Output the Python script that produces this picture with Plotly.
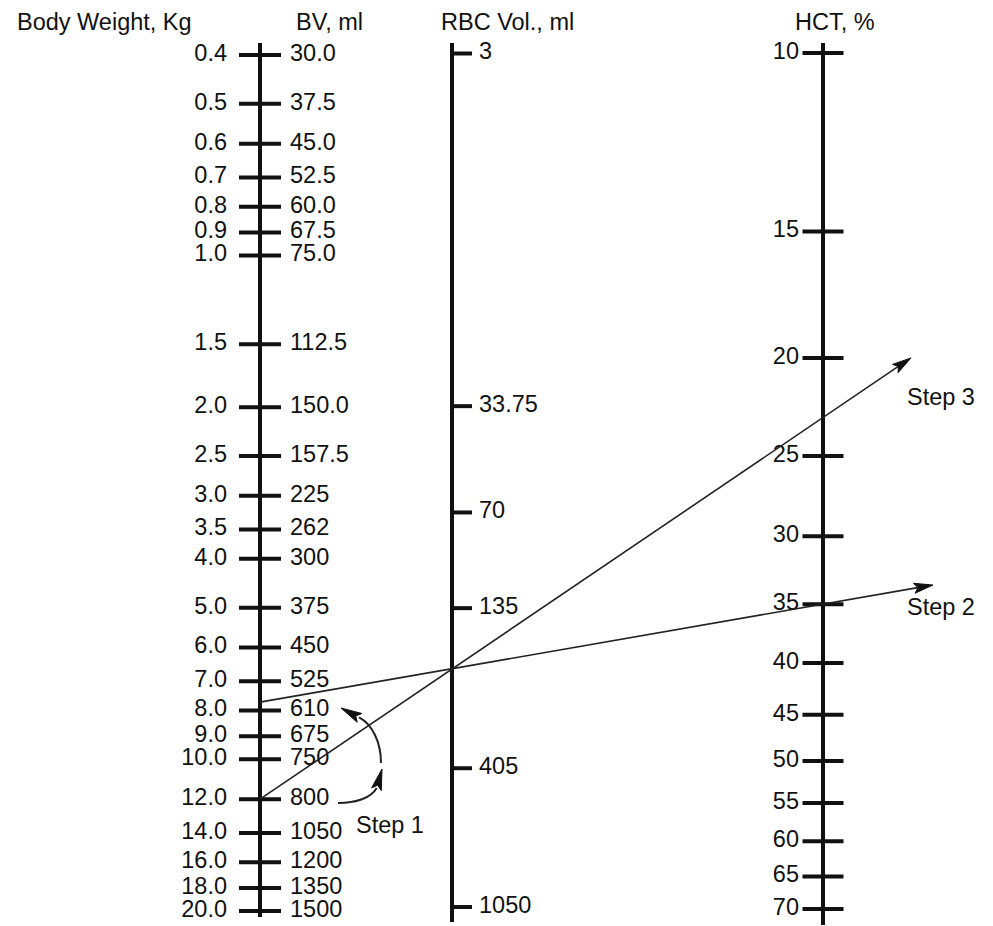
import numpy as np
import plotly.graph_objects as go

# ---------------- data ----------------
weight_kg = [0.4, 0.5, 0.6, 0.7, 0.8, 0.9, 1.0, 1.5, 2.0, 2.5, 3.0, 3.5, 4.0,
             5.0, 6.0, 7.0, 8.0, 9.0, 10.0, 12.0, 14.0, 16.0, 18.0, 20.0]
weight_labels = ["0.4", "0.5", "0.6", "0.7", "0.8", "0.9", "1.0", "1.5", "2.0", "2.5",
                 "3.0", "3.5", "4.0", "5.0", "6.0", "7.0", "8.0", "9.0", "10.0", "12.0",
                 "14.0", "16.0", "18.0", "20.0"]
bv_labels = ["30.0", "37.5", "45.0", "52.5", "60.0", "67.5", "75.0", "112.5", "150.0",
             "157.5", "225", "262", "300", "375", "450", "525", "610", "675", "750",
             "800", "1050", "1200", "1350", "1500"]
rbc_ml = [3, 33.75, 70, 135, 405, 1050]
rbc_labels = ["3", "33.75", "70", "135", "405", "1050"]
hct_pct = [10, 15, 20, 25, 30, 35, 40, 45, 50, 55, 60, 65, 70]
hct_labels = ["10", "15", "20", "25", "30", "35", "40", "45", "50", "55", "60", "65", "70"]

# worked example: start weight (kg) and HCT crossing (%)
step2_weight, step2_hct = 7.7, 35.0
step3_weight, step3_hct = 12.0, 22.9

titles = ["Body Weight, Kg", "BV, ml", "RBC Vol., ml", "HCT, %"]
step_names = ["Step 1", "Step 2", "Step 3"]

# ---------------- layout constants (scale calibration / positions) ----------------
W, H = 993, 926
X_W, X_R, X_H = 260, 452, 823          # scale spines
W_Y0, W_K = 255.5, 503.8               # weight scale: px at 1 kg, px per decade
R_Y0, R_K = 53.5, 335.5                # RBC scale: px at 3 ml, px per decade
H_Y0, H_K = 53.0, 1013.0               # HCT scale: px at 10 %, px per decade


def log_range(y0, k, ref):
    base = np.log10(ref)
    return [base + (H - y0) / k, base + (0 - y0) / k]


def px_w(w):
    return W_Y0 + W_K * np.log10(w)


def px_h(h):
    return H_Y0 + H_K * np.log10(h / 10.0)


FONT = dict(family="Liberation Sans, Arial, Helvetica, sans-serif", size=23.5, color="#111111")
INK = "#111111"

fig = go.Figure()

# tick marks
fig.add_trace(go.Scatter(x=[X_W] * len(weight_kg), y=weight_kg, mode="markers", yaxis="y",
                         marker=dict(symbol="line-ew", size=30, line=dict(width=4, color=INK)),
                         hoverinfo="skip", showlegend=False))
fig.add_trace(go.Scatter(x=[X_R + 10] * len(rbc_ml), y=rbc_ml, mode="markers", yaxis="y2",
                         marker=dict(symbol="line-ew", size=14.3, line=dict(width=4, color=INK)),
                         hoverinfo="skip", showlegend=False))
fig.add_trace(go.Scatter(x=[X_H] * len(hct_pct), y=hct_pct, mode="markers", yaxis="y3",
                         marker=dict(symbol="line-ew", size=29.3, line=dict(width=4, color=INK)),
                         hoverinfo="skip", showlegend=False))

# tick labels
fig.add_trace(go.Scatter(x=[227] * len(weight_kg), y=weight_kg, text=weight_labels, mode="text",
                         textposition="middle left", textfont=FONT, yaxis="y",
                         hoverinfo="skip", showlegend=False))
fig.add_trace(go.Scatter(x=[290] * len(weight_kg), y=weight_kg, text=bv_labels, mode="text",
                         textposition="middle right", textfont=FONT, yaxis="y",
                         hoverinfo="skip", showlegend=False))
fig.add_trace(go.Scatter(x=[479] * len(rbc_ml), y=rbc_ml, text=rbc_labels, mode="text",
                         textposition="middle right", textfont=FONT, yaxis="y2",
                         hoverinfo="skip", showlegend=False))
fig.add_trace(go.Scatter(x=[799] * len(hct_pct), y=hct_pct, text=hct_labels, mode="text",
                         textposition="middle left", textfont=FONT, yaxis="y3",
                         hoverinfo="skip", showlegend=False))

shapes = []
# spines
for x, y0, y1 in [(X_W, 43, 917), (X_R, 43, 922), (X_H, 43, 925)]:
    shapes.append(dict(type="line", xref="x", yref="y4", x0=x, x1=x, y0=y0, y1=y1,
                       line=dict(color=INK, width=4)))


def arrow_head(tip, direction, L=18, Wd=10):
    u = np.array(direction, float)
    u /= np.linalg.norm(u)
    n = np.array([-u[1], u[0]])
    t = np.array(tip, float)
    b1 = t - L * u + Wd / 2 * n
    b2 = t - L * u - Wd / 2 * n
    notch = t - 0.8 * L * u
    path = (f"M {t[0]:.1f},{t[1]:.1f} L {b1[0]:.1f},{b1[1]:.1f} "
            f"L {notch[0]:.1f},{notch[1]:.1f} L {b2[0]:.1f},{b2[1]:.1f} Z")
    return dict(type="path", xref="x", yref="y4", path=path,
                fillcolor=INK, line=dict(color=INK, width=1))


# step lines (straight, from weight scale through HCT crossing, extended)
for wkg, hct, x_tip in [(step2_weight, step2_hct, 933), (step3_weight, step3_hct, 911)]:
    ya = px_w(wkg)
    yb = px_h(hct)
    slope = (yb - ya) / (X_H - X_W)
    y_tip = ya + slope * (x_tip - X_W)
    d = np.array([x_tip - X_W, y_tip - ya])
    d /= np.linalg.norm(d)
    end = np.array([x_tip, y_tip]) - 14 * d
    shapes.append(dict(type="line", xref="x", yref="y4", x0=X_W, y0=ya, x1=end[0], y1=end[1],
                       line=dict(color="#222222", width=1.6)))
    shapes.append(arrow_head((x_tip, y_tip), d, L=19, Wd=10))

# step 1 curved arrows (BV 800 -> 610)
shapes.append(dict(type="path", xref="x", yref="y4",
                   path="M 338,803 C 356,803 371,798 376.7,788",
                   line=dict(color="#222222", width=2)))
shapes.append(arrow_head((382, 769), (0.264, -0.964), L=21, Wd=10))
shapes.append(dict(type="path", xref="x", yref="y4",
                   path="M 381,763 C 381,742 372,724 359,717.4",
                   line=dict(color="#222222", width=2)))
shapes.append(arrow_head((341, 708), (-0.88, -0.47), L=21, Wd=10))

annotations = []
for txt, x, y in zip(titles, [104, 329, 507, 835], [22, 22, 22, 22]):
    annotations.append(dict(text=txt, x=x, y=y, xref="x", yref="y4", showarrow=False,
                            font=FONT, xanchor="center", yanchor="middle"))
for txt, x, y in zip(step_names, [390, 941, 941], [825, 607, 397]):
    annotations.append(dict(text=txt, x=x, y=y, xref="x", yref="y4", showarrow=False,
                            font=FONT, xanchor="center", yanchor="middle"))

hidden = dict(visible=False, showgrid=False, zeroline=False, fixedrange=True)
fig.update_layout(
    width=W, height=H,
    margin=dict(l=0, r=0, t=0, b=0, pad=0),
    paper_bgcolor="white", plot_bgcolor="white",
    showlegend=False,
    xaxis=dict(range=[0, W], **hidden),
    yaxis=dict(type="log", range=log_range(W_Y0, W_K, 1.0), anchor="x", **hidden),
    yaxis2=dict(type="log", range=log_range(R_Y0, R_K, 3.0), anchor="x", overlaying="y", **hidden),
    yaxis3=dict(type="log", range=log_range(H_Y0, H_K, 10.0), anchor="x", overlaying="y", **hidden),
    yaxis4=dict(range=[H, 0], anchor="x", overlaying="y", **hidden),
    shapes=shapes,
    annotations=annotations,
)

fig.write_html("out.html", config={"displayModeBar": False},
               post_script="document.body.style.margin='0';document.body.style.overflow='hidden';")
